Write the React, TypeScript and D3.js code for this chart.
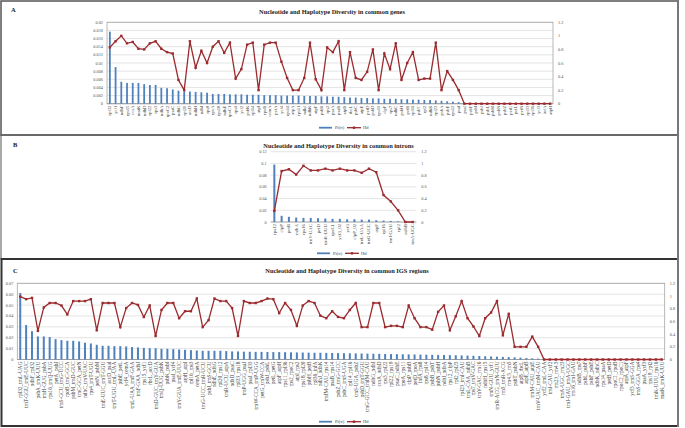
import React from "react";
import * as d3 from "d3";

const catsA = ["rpl32","ycf1","ndhF","rps15","ccsA","matK","ndhD","rpl22","rps3","ndhA","rpoC2","psaC","ndhG","rpl20","accD","ndhH","ndhI","rps8","rpoA","rps18","ndhE","rpoC1","rps4","ycf2","psbK","rpl14","atpI","rpoB","cemA","petA","ycf4","rps14","atpA","rps11","ndhJ","ndhK","atpF","psbB","rps2","psaA","psaB","atpB","rbcL","psbC","atpE","petD","psbD","rps19","clpP","rps7","ndhC","psbH","petB","rpl16","psbT","rpl2","ndhB","rpl23","psbA","psbE","rps12","psaI","psaJ","psbF","psbI","psbJ","psbL","psbM","psbN","psbZ","petG","petL","petN","rpl33","rpl36","ycf3","infA","atpH"];
const piA = [0.0177,0.009,0.0054,0.0051,0.0051,0.0051,0.0048,0.0046,0.0046,0.0039,0.0038,0.0035,0.0032,0.003,0.003,0.0029,0.0028,0.0027,0.0024,0.0024,0.0024,0.0023,
  0.0023,0.0023,0.0022,0.0022,0.0022,0.0021,0.0021,0.0021,0.002,0.002,0.002,0.002,0.0019,0.0019,0.0019,0.0018,0.0018,0.0017,0.0017,0.0016,0.0015,0.0015,0.0014,0.0014,0.0013,0.0013,0.0012,0.0012,0.0012,0.0011,0.0011,0.001,0.001,0.0009,0.0009,0.0008,0.0007,0.0006,0.0005,0.0004,
  0,0,0,0,0,0,0,0,0,0,0,0,0,0,0,0];
const hdA = [0.83,0.92,1.0,0.89,0.91,0.81,0.8,0.89,0.92,0.81,0.76,0.74,0.35,0.2,0.92,0.53,0.78,0.6,0.84,0.92,0.75,0.9,
  0.37,0.51,0.87,0.9,0.2,0.87,0.9,0.9,0.62,0.38,0.2,0.2,0.38,0.9,0.36,0.2,0.83,0.76,0.92,0.2,0.76,0.38,0.35,0.47,0.8,0.2,0.74,0.51,0.89,0.35,0.6,0.76,0.35,0.37,0.37,0.9,0.2,0.48,0.35,0.2,
  0,0,0,0,0,0,0,0,0,0,0,0,0,0,0,0];

const catsB = ["rps12","clpP","petB","ndhA","rps16","trnV-UAC","petD","trnK-UUU","rpoC1","ycf3_02","ycf3","clpP_02","trnL-UAA","trnG-UCC","atpF","rpl16","trnI-GAU","rpl2","ndhB","trnA-UGC"];
const piB = [0.098,0.0106,0.0088,0.0076,0.007,0.007,0.0065,0.0059,0.0053,0.0053,0.0047,0.0047,0.0041,0.0041,0.003,0.0024,0.0018,0.0012,0.0005,0.0003];
const hdB = [0.19,0.87,0.9,0.81,0.96,0.88,0.88,0.91,0.88,0.91,0.88,0.88,0.84,0.91,0.85,0.46,0.35,0.2,0,0];

const catsC = ["rpl32_trnL-UAG","trnT-GGU_trnE-UUC","ndhF_rpl32","psbA_trnK-UUU","trnH-GUG_psbA","rps16_trnQ-UUG","petA_psbJ","trnS-GCU_trnG-UCC","rpoB_trnC-GCA","psbM_trnD-GUC",
  "trnC-GCA_petN","ndhC_trnV-UAC","rps4_trnT-UGU","petN_psbM","trnE-UUC_trnT-GGU","accD_psaI","trnT-UGU_trnL-UAA","psbE_petL","ycf4_cemA","trnL-UAA_trnF-GAA",
  "trnF-GAA_ndhJ","rps15_ycf1","rbcL_accD","trnD-GUC_trnY-GUA","trnQ-UUG_psbK","psbK_psbI","psaI_ycf4","trnY-GUA_trnE-UUC","atpH_atpI","rpl16_rps3",
  "cemA_petA","trnG-UCC_trnR-UCU","psbI_trnS-GCU","ndhE_ndhG","rpl20_rps12","trnR-UCU_atpA","ndhD_psaC","rpl33_rps18","trnP-UGG_psaJ","psaJ_rpl33",
  "trnW-CCA_trnP-UGG","petG_trnW-CCA","psbJ_psbL","petL_petG","atpF_atpH","rps11_rpl36","rps2_rpoC2","atpI_rps2","rps18_rpl20","psbH_petB",
  "rpl36_infA","ndhJ_ndhK","trnfM-CAU_rps14","psaB_rps14","psbZ_trnG-GCC","psbC_trnS-UGA","rpl14_rpl16","trnS-UGA_psbZ","psbD_trnT-GGU","trnG-GCC_trnfM-CAU",
  "ndhG_ndhI","ccsA_ndhD","rps3_rpl22","rpl22_rps19","psaC_ndhE","rpoA_rps11","clpP_psbB","petD_rpoA","infA_rps8","rps8_rpl14",
  "psbB_psbT","psbN_psbH","ndhI_ndhA","rps12_clpP","rpl2_rpl23","rpl23_trnI-CAU","trnL-CAA_ndhB","rps7_trnV-GAC","trnV-GAC_rrn16","ndhH_rps15",
  "trnN-GUU_ycf1","trnR-ACG_trnN-GUU","rrn5_trnR-ACG","rrn4.5_rrn5","psbT_psbN","atpB_rbcL","atpE_atpB","trnM-CAU_atpE","trnV-UAC_trnM-CAU","ycf2_trnL-CAA",
  "trnI-CAU_ycf2","rrn23_rrn4.5","trnA-UGC_rrn23","trnI-GAU_trnA-UGC","rrn16_trnI-GAU","ndhB_rps7","psbL_psbF","psbF_psbE","ndhK_ndhC","rps14_psaA",
  "petB_petD","rpoC1_rpoB","rpoC2_rpoC1","atpA_atpF","ycf3_trnS-GGA","trnS-GGA_rps4","psaA_ycf3","rps19_rpl2","trnK-UUU_rps16","matK_trnK-UUU"];
const piC = [0.061,0.0316,0.026,0.0212,0.0212,0.0206,0.0187,0.0178,0.0172,0.0172,0.0166,0.0154,0.0147,0.0135,0.0126,0.0126,0.0123,0.0123,0.012,0.0114,0.0111,0.0107,0.0104,0.0104,0.0098,0.0098,0.0095,0.0092,0.0089,0.0086,0.0083,0.008,0.008,0.008,0.008,0.0077,0.0074,0.0074,
  0.0072,0.0071,0.007,0.007,0.0069,0.0068,0.0068,0.0067,0.0066,0.0065,0.0064,0.0063,0.0062,0.0062,0.0061,0.006,0.0059,0.0058,0.0057,0.0056,0.0055,0.0054,0.0053,0.0052,0.0051,0.005,0.0049,0.0048,0.0047,0.0046,0.0045,0.0044,0.0043,0.0042,0.0041,0.004,0.0039,0.0037,0.0036,0.0034,0.0032,0.003,0.0028,0.0026,0.0024,0.0022,0.002,0.0017,0.0014,0.0011,0.0008,
  0,0,0,0,0,0,0,0,0,0,0,0,0,0,0,0,0,0,0,0,0];
const hdC = [0.99,0.95,0.97,0.45,0.82,0.89,0.89,0.85,0.71,0.92,0.92,0.92,0.95,0.46,0.89,0.89,0.89,0.51,0.81,0.89,0.86,0.67,0.85,0.37,0.78,0.89,0.89,0.65,0.76,0.76,0.96,0.51,0.62,0.96,0.92,0.92,0.81,0.37,
  0.92,0.89,0.89,0.92,0.96,0.95,0.73,0.89,0.78,0.53,0.85,0.92,0.89,0.69,0.65,0.76,0.67,0.65,0.78,0.89,0.51,0.51,0.89,0.89,0.51,0.53,0.53,0.51,0.85,0.65,
  0.51,0.51,0.47,0.75,0.85,0.46,0.68,0.92,0.65,0.52,0.37,0.65,0.74,0.92,0.38,0.72,0.2,0.2,0.2,0.36,0.2,
  0,0,0,0,0,0,0,0,0,0,0,0,0,0,0,0,0,0,0,0,0];

const hdTicks = [0, 0.2, 0.4, 0.6, 0.8, 1, 1.2];
const piTicksA = [0, 0.002, 0.004, 0.006, 0.008, 0.01, 0.012, 0.014, 0.016, 0.018, 0.02];
const piTicksB = [0, 0.02, 0.04, 0.06, 0.08, 0.1, 0.12];
const piTicksC = [0, 0.01, 0.02, 0.03, 0.04, 0.05, 0.06, 0.07];

const titleA = "Nucleotide and Haplotype Diversity in common genes";
const titleB = "Nucleotide and Haplotype Diversity in common introns";
const titleC = "Nucleotide and Haplotype Diversity in common IGS regions";

const FONT = "'Liberation Serif', 'DejaVu Serif', serif";
const BAR = "#4f81bd";
const RED = "#9b2b2f";

type PanelProps = {
  cats: string[]; pi: number[]; hd: number[]; piTicks: number[];
  x0: number; x1: number; yTop: number; yBot: number;
  title: string; titleX: number; titleY: number;
  legendX: number; legendY: number; labelSize: number; barW: number; box: boolean;
};

function Panel(p: PanelProps) {
  const x = d3.scaleBand<string>().domain(p.cats).range([p.x0, p.x1]);
  const yPi = d3.scaleLinear().domain([0, p.piTicks[p.piTicks.length - 1]]).range([p.yBot, p.yTop]);
  const yHd = d3.scaleLinear().domain([0, 1.2]).range([p.yBot, p.yTop]);
  const cx = (c: string) => (x(c) as number) + x.bandwidth() / 2;
  const line = d3.line<number>().x((_, i) => cx(p.cats[i])).y((d) => yHd(d));
  return (
    <g>
      <text x={p.titleX} y={p.titleY} textAnchor="middle" fontFamily={FONT} fontWeight="bold" fontSize={6.4} fill="#222" dominantBaseline="central">{p.title}</text>
      {p.piTicks.map((t) => (
        <g key={"g" + t}>
          <line x1={p.x0} x2={p.x1} y1={yPi(t)} y2={yPi(t)} stroke="#d9d9d9" strokeWidth={0.7} />
          <text x={p.x0 - 4} y={yPi(t)} textAnchor="end" dominantBaseline="central" fontFamily={FONT} fontSize={4.3} fill="#555">{String(t)}</text>
        </g>
      ))}
      {hdTicks.map((t) => (
        <text key={"h" + t} x={p.x1 + 5} y={yHd(t)} textAnchor="start" dominantBaseline="central" fontFamily={FONT} fontSize={4.3} fill="#555">{String(t)}</text>
      ))}
      {p.box && <rect x={p.x0} y={p.yTop} width={p.x1 - p.x0} height={p.yBot - p.yTop} fill="none" stroke="#a6a6a6" strokeWidth={0.8} />}
      <line x1={p.x0} x2={p.x1} y1={p.yBot} y2={p.yBot} stroke="#999" strokeWidth={0.8} />
      {p.cats.map((c, i) => (
        <rect key={"b" + i} x={cx(c) - p.barW / 2} y={yPi(p.pi[i])} width={p.barW} height={p.yBot - yPi(p.pi[i])} fill={BAR} />
      ))}
      <path d={line(p.hd) || ""} fill="none" stroke={RED} strokeWidth={1.3} />
      {p.cats.map((c, i) => (
        <rect key={"m" + i} x={cx(c) - 1.2} y={yHd(p.hd[i]) - 1.2} width={2.4} height={2.4} fill={RED} />
      ))}
      {p.cats.map((c, i) => (
        <text key={"l" + i} transform={`translate(${cx(c)},${p.yBot + 2}) rotate(-90)`} textAnchor="end" dominantBaseline="central" fontFamily={FONT} fontSize={p.labelSize} fill="#444">{c}</text>
      ))}
      <g>
        <line x1={p.legendX} x2={p.legendX + 13} y1={p.legendY} y2={p.legendY} stroke={BAR} strokeWidth={1.8} />
        <text x={p.legendX + 16} y={p.legendY} dominantBaseline="central" fontFamily={FONT} fontSize={4.6} fill="#444">Pi(π)</text>
        <line x1={p.legendX + 28} x2={p.legendX + 42} y1={p.legendY} y2={p.legendY} stroke={RED} strokeWidth={1.3} />
        <rect x={p.legendX + 33.8} y={p.legendY - 1.2} width={2.4} height={2.4} fill={RED} />
        <text x={p.legendX + 44} y={p.legendY} dominantBaseline="central" fontFamily={FONT} fontSize={4.6} fill="#444">Hd</text>
      </g>
    </g>
  );
}

export default function App() {
  return (
    <svg width={685} height={428} style={{ position: "absolute", left: 0, top: 0, background: "#fff" }}>
      <rect x={0} y={0} width={685} height={428} fill="#fff" />
      <rect x={1} y={1} width={677} height={134} fill="none" stroke="#555" strokeWidth={1.5} />
      <rect x={1} y={135} width={677} height={124} fill="none" stroke="#555" strokeWidth={1} />
      <rect x={1.5} y={259} width={676.5} height={167} fill="none" stroke="#333" strokeWidth={2} />
      <line x1={678} x2={678} y1={0} y2={427} stroke="#777" strokeWidth={2} />
      <text x={11} y={9} fontFamily={FONT} fontWeight="bold" fontSize={6.5} fill="#222" dominantBaseline="central">A</text>
      <text x={13} y={144} fontFamily={FONT} fontWeight="bold" fontSize={6.5} fill="#222" dominantBaseline="central">B</text>
      <text x={13} y={270} fontFamily={FONT} fontWeight="bold" fontSize={6.5} fill="#222" dominantBaseline="central">C</text>
      <Panel cats={catsA} pi={piA} hd={hdA} piTicks={piTicksA} x0={107} x1={553} yTop={22.3} yBot={103.7}
        title={titleA} titleX={332} titleY={11.7} legendX={319} legendY={127.7} labelSize={4.6} barW={1.8} box={true} />
      <Panel cats={catsB} pi={piB} hd={hdB} piTicks={piTicksB} x0={270.7} x1={416.3} yTop={151.7} yBot={222}
        title={titleB} titleX={338.5} titleY={145.3} legendX={317} legendY={253.3} labelSize={4.8} barW={2} box={false} />
      <Panel cats={catsC} pi={piC} hd={hdC} piTicks={piTicksC} x0={17.3} x1={664.7} yTop={283.3} yBot={359.5}
        title={titleC} titleX={347} titleY={270} legendX={319} legendY={421.7} labelSize={5.3} barW={2} box={true} />
    </svg>
  );
}
